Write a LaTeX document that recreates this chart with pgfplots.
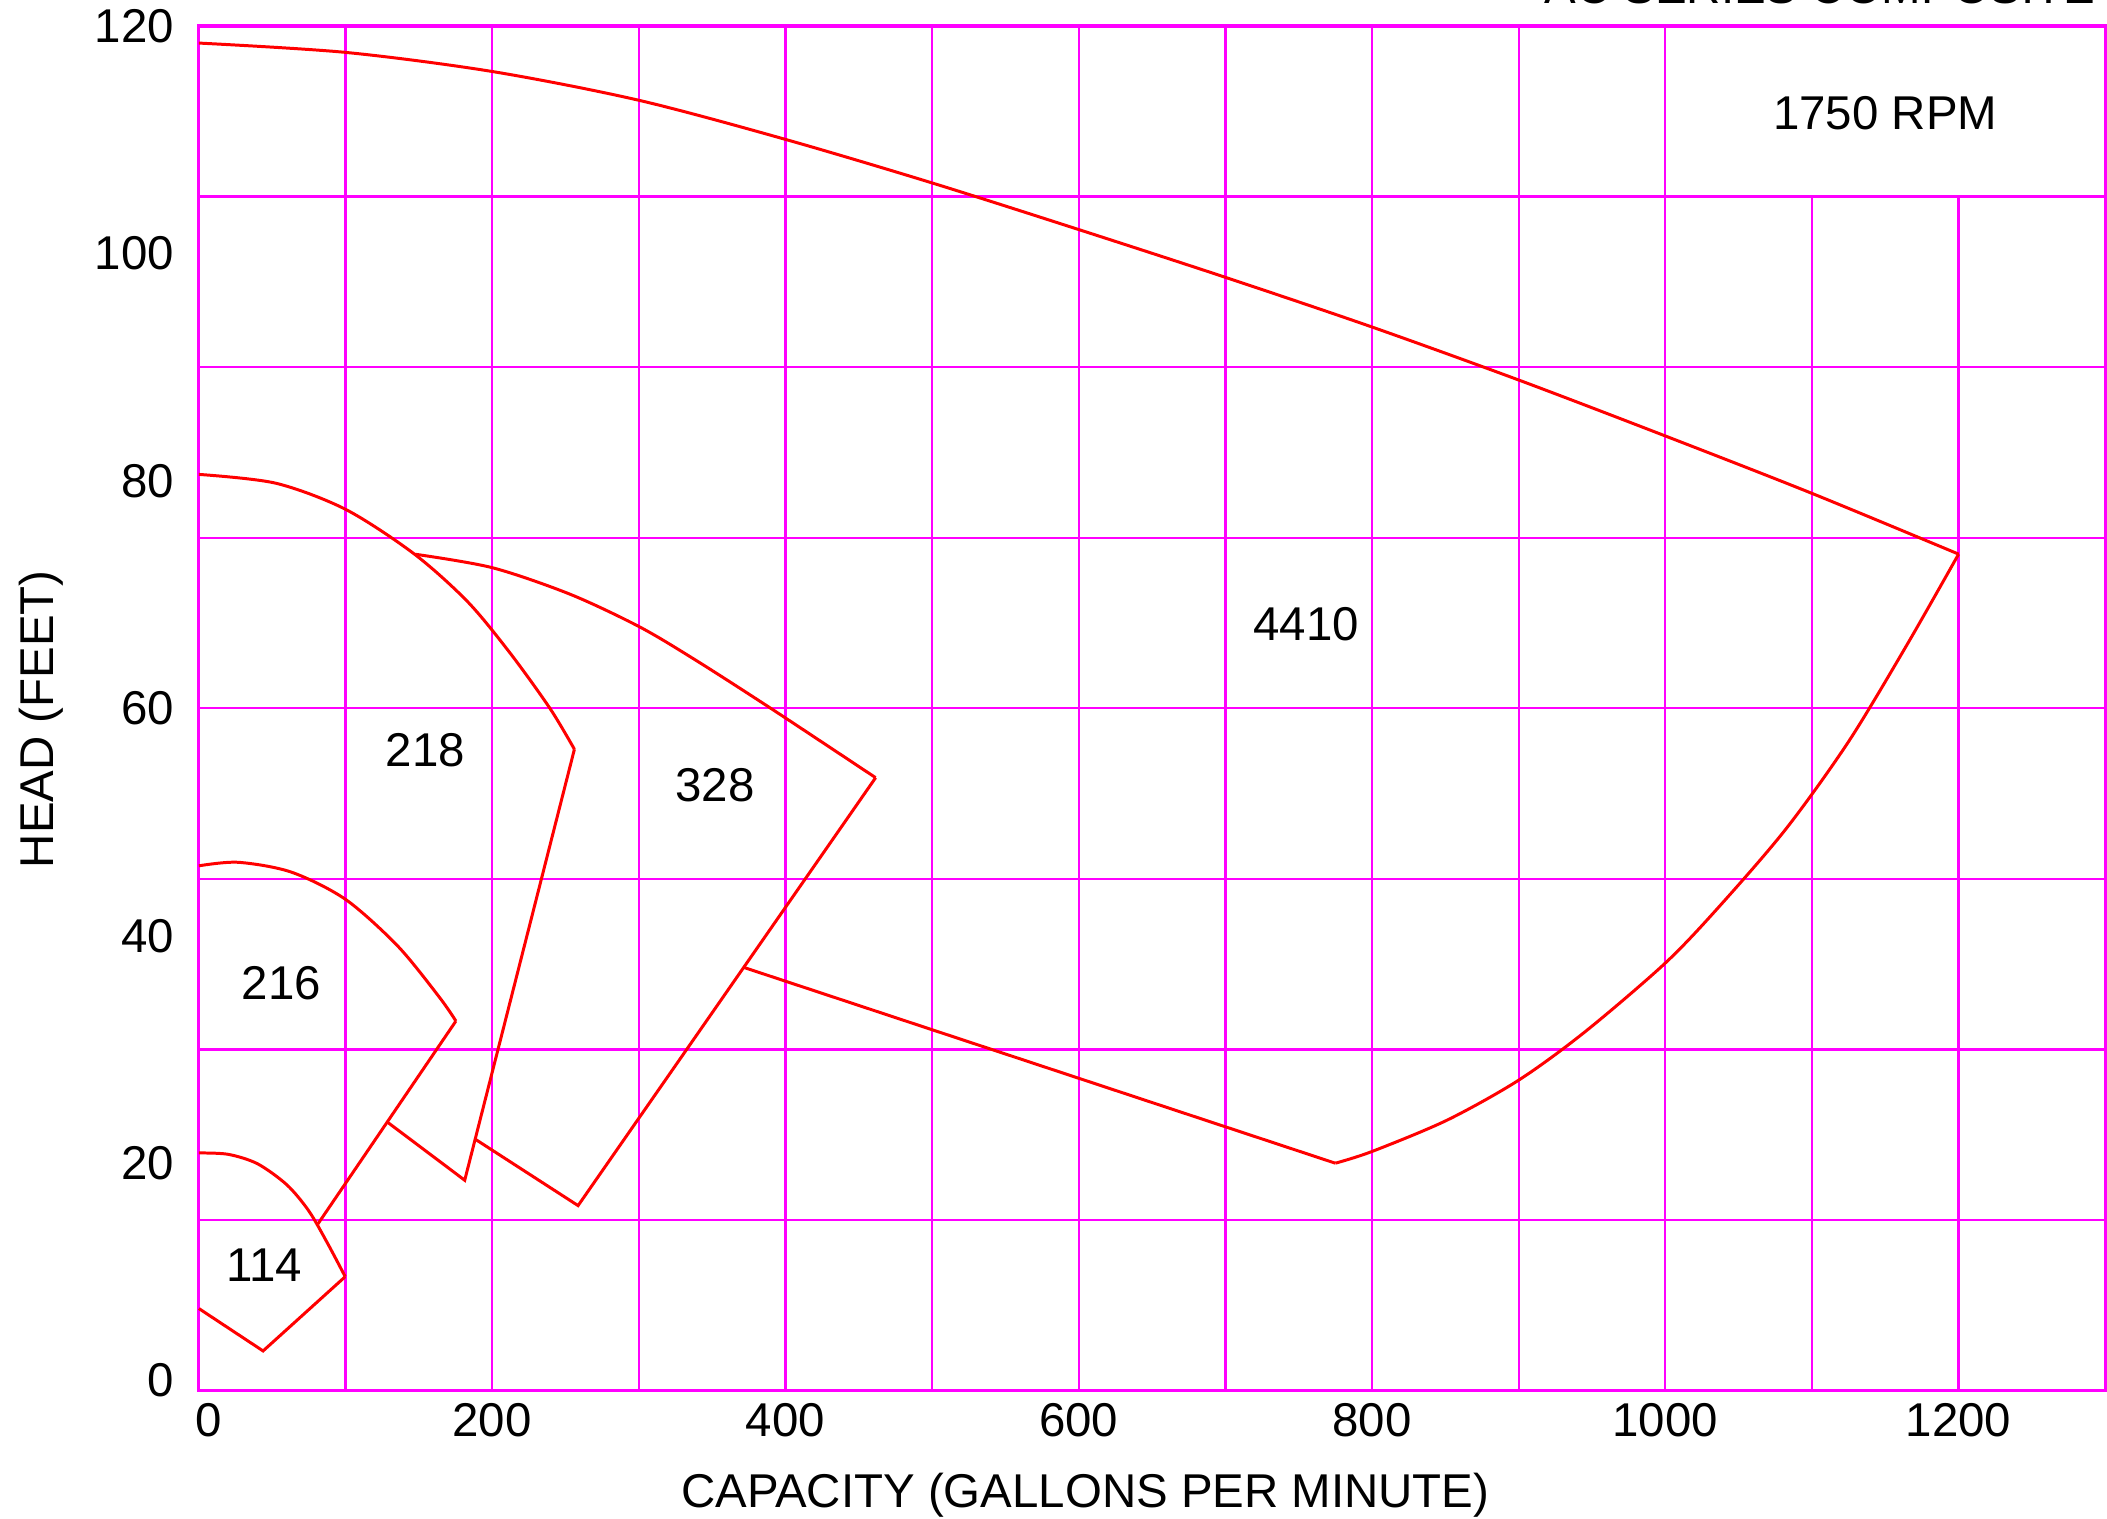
\documentclass[border=0pt]{standalone}
\usepackage{fontspec}
\setmainfont{Liberation Sans}
\usepackage{pgfplots}
\pgfplotsset{compat=1.18}
\definecolor{gridc}{RGB}{255,0,255}
\definecolor{curve}{RGB}{255,0,0}
\begin{document}
\fontsize{13.5}{16}\selectfont
\begin{tikzpicture}
\begin{axis}[
  scale only axis, width=542.6pt, height=388.4pt,
  xmin=0, xmax=1300, ymin=0, ymax=120,
  axis line style={draw=gridc, line width=0.9pt},
  xtick={0,200,400,600,800,1000,1200},
  xticklabels={\mbox{\hspace{5.4pt}0},\mbox{200},\mbox{400},\mbox{600},\mbox{800},\mbox{1000},\mbox{1200}},
  ytick={0,20,40,60,80,100,120},
  yticklabels={\mbox{\vphantom{0}\smash{\raisebox{3pt}{0}}},\mbox{20},\mbox{40},\mbox{60},\mbox{80},\mbox{100},\mbox{120}},
  major tick length=0pt,
  tick style={draw=none},
  xticklabel style={inner sep=0pt, anchor=north, yshift=-3.4pt, font=\fontsize{13.5}{16}\selectfont},
  yticklabel style={inner sep=0pt, anchor=east, xshift=-6.9pt, font=\fontsize{13.5}{16}\selectfont},
  xlabel={CAPACITY (GALLONS PER MINUTE)},
  ylabel={HEAD (FEET)},
  x label style={at={(axis description cs:0.465,0)}, anchor=base, yshift=-33.3pt, inner sep=0pt, font=\fontsize{13.5}{16}\selectfont},
  y label style={at={(axis description cs:-0.0761,0.492)}, anchor=base, inner sep=0pt, font=\fontsize{13.5}{16}\selectfont},
  clip=false,
]
% grid
\foreach \yy in {15,30,45,60,75,90,105} {
  \edef\tmp{\noexpand\draw[gridc, line width=0.65pt] (axis cs:0,\yy) -- (axis cs:1300,\yy);}\tmp
}
\foreach \xx in {100,200,300,400,500,600,700,800,900,1000} {
  \edef\tmp{\noexpand\draw[gridc, line width=0.65pt] (axis cs:\xx,0) -- (axis cs:\xx,120);}\tmp
}
\foreach \xx in {1100,1200} {
  \edef\tmp{\noexpand\draw[gridc, line width=0.65pt] (axis cs:\xx,0) -- (axis cs:\xx,105);}\tmp
}

% 4410
\addplot[curve, line width=0.85pt, smooth, no markers] coordinates {
(0,118.5) (100,117.68) (200,116.0) (300,113.47) (400,110.03) (500,106.2)
(600,102.1) (700,97.9) (800,93.53) (900,88.87) (1000,83.95) (1100,78.9)
(1200,73.56)
};
\addplot[curve, line width=0.85pt, smooth, no markers] coordinates {
(1200,73.56) (1164.4,65.5) (1124.9,57.06) (1082.3,49.4) (1036.7,42.56)
(1000,37.6) (945.4,31.57) (900,27.3) (851.1,23.78) (800,21.03) (775,20.0)
};
\addplot[curve, line width=0.85pt, sharp plot, no markers] coordinates {(775,20.0) (372,37.2)};
% 328
\addplot[curve, line width=0.85pt, smooth, no markers] coordinates {
(147.5,73.55) (200,72.37) (253,70.04) (300,67.2) (338,64.3) (390,60) (461.5,53.9)
};
\addplot[curve, line width=0.85pt, sharp plot, no markers] coordinates {
(461.5,53.9) (258.6,16.27) (188.6,22.1)
};
% 218
\addplot[curve, line width=0.85pt, smooth, no markers] coordinates {
(0,80.57) (52.3,79.8) (100,77.5) (146.6,73.6) (183.1,69.4) (212,64.9) (239.4,60.0) (256.1,56.4)
};
\addplot[curve, line width=0.85pt, sharp plot, no markers] coordinates {
(256.1,56.4) (181.3,18.5) (128.7,23.6)
};
% 216
\addplot[curve, line width=0.85pt, smooth, no markers] coordinates {
(0,46.15) (26.8,46.46) (63,45.6) (100,43.2) (135.6,39.1) (164,34.6) (175.3,32.5)
};
\addplot[curve, line width=0.85pt, sharp plot, no markers] coordinates {
(175.3,32.5) (81.2,14.66)
};
% 114
\addplot[curve, line width=0.85pt, smooth, no markers] coordinates {
(0,20.9) (20,20.78) (40,19.95) (60,18.1) (75,15.8) (88,12.9) (99.8,10.02)
};
\addplot[curve, line width=0.85pt, sharp plot, no markers] coordinates {
(99.8,10.02) (43.8,3.49) (0,7.22)
};

\node[inner sep=0pt] at (axis cs:1150,112.3) {1750 RPM};
\node[inner sep=0pt] at (axis cs:755,67.4) {4410};
\node[inner sep=0pt] at (axis cs:352,53.2) {328};
\node[inner sep=0pt] at (axis cs:154.5,56.3) {218};
\node[inner sep=0pt] at (axis cs:56.4,35.8) {216};
\node[inner sep=0pt] at (axis cs:44.5,11.0) {114};

\coordinate (ll) at (rel axis cs:0,0);
\coordinate (ur) at (rel axis cs:1,1);
\end{axis}
\node[anchor=base east, inner sep=0pt] at ([shift={(-2.6pt,6.3pt)}]ur) {AC SERIES COMPOSITE};
\pgfresetboundingbox
\path[use as bounding box] ([shift={(-56.6pt,-36.3pt)}]ll) rectangle ([shift={(0.5pt,7.4pt)}]ur);
\end{tikzpicture}
\end{document}
